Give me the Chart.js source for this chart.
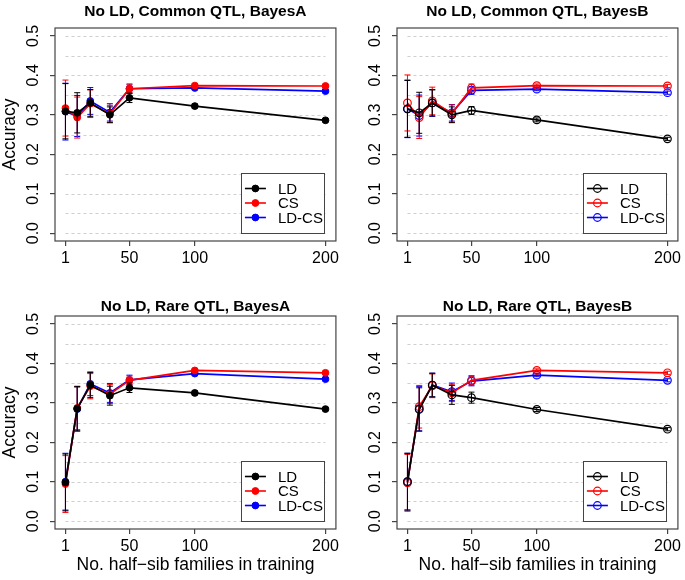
<!DOCTYPE html>
<html>
<head>
<meta charset="utf-8">
<script src="https://cdn.jsdelivr.net/npm/chart.js@4.4.1/dist/chart.umd.min.js"></script>
<style>
  body { margin: 0; background: #fff; }
  #wrap { position: relative; width: 685px; height: 580px; }
  canvas { position: absolute; }
</style>
</head>
<body>
<div id="wrap">
  <canvas id="p1" width="342" height="290" style="left:0;top:0"></canvas>
  <canvas id="p2" width="342" height="290" style="left:342px;top:0"></canvas>
  <canvas id="p3" width="342" height="290" style="left:0;top:288px"></canvas>
  <canvas id="p4" width="342" height="290" style="left:342px;top:288px"></canvas>
</div>
<script>
// number of half-sib families (x) and axis ticks
const families = [1, 10, 20, 35, 50, 100, 200];
const xTicks = [1, 50, 100, 200];
const yTicks = [0, 0.1, 0.2, 0.3, 0.4, 0.5];
const gridVals = [0, 0.05, 0.1, 0.15, 0.2, 0.25, 0.3, 0.35, 0.4, 0.45, 0.5];
const seriesNames = ['LD', 'CS', 'LD-CS'];
const seriesColors = ['#000000', '#ff0000', '#0000ff'];

// No LD, Common QTL, BayesA
const ldCommonA   = [0.309, 0.305, 0.330, 0.300, 0.343, 0.322, 0.286];
const csCommonA   = [0.317, 0.293, 0.328, 0.302, 0.366, 0.374, 0.373];
const ldcsCommonA = [0.308, 0.297, 0.335, 0.306, 0.366, 0.368, 0.360];
const errLdCommonA   = [0.070, 0.051, 0.034, 0.020, 0.012, 0.005, 0.004];
const errCsCommonA   = [0.071, 0.052, 0.035, 0.022, 0.010, 0.004, 0.004];
const errLdcsCommonA = [0.072, 0.052, 0.034, 0.022, 0.012, 0.004, 0.004];

// No LD, Common QTL, BayesB
const ldCommonB   = [0.315, 0.305, 0.330, 0.300, 0.311, 0.287, 0.239];
const csCommonB   = [0.330, 0.293, 0.335, 0.303, 0.368, 0.374, 0.373];
const ldcsCommonB = [0.315, 0.298, 0.330, 0.305, 0.362, 0.365, 0.356];
const errLdCommonB   = [0.072, 0.052, 0.033, 0.020, 0.010, 0.005, 0.004];
const errCsCommonB   = [0.071, 0.053, 0.035, 0.022, 0.010, 0.004, 0.004];
const errLdcsCommonB = [0.073, 0.052, 0.034, 0.021, 0.010, 0.004, 0.004];

// No LD, Rare QTL, BayesA
const ldRareA   = [0.098, 0.285, 0.345, 0.318, 0.338, 0.325, 0.284];
const csRareA   = [0.094, 0.287, 0.342, 0.322, 0.357, 0.382, 0.376];
const ldcsRareA = [0.100, 0.284, 0.348, 0.325, 0.358, 0.374, 0.360];
const errLdRareA   = [0.072, 0.056, 0.032, 0.024, 0.012, 0.005, 0.004];
const errCsRareA   = [0.072, 0.055, 0.032, 0.024, 0.011, 0.004, 0.004];
const errLdcsRareA = [0.072, 0.056, 0.030, 0.024, 0.012, 0.004, 0.004];

// No LD, Rare QTL, BayesB
const ldRareB   = [0.100, 0.283, 0.345, 0.320, 0.313, 0.283, 0.233];
const csRareB   = [0.097, 0.290, 0.343, 0.325, 0.357, 0.382, 0.376];
const ldcsRareB = [0.100, 0.285, 0.345, 0.328, 0.355, 0.370, 0.357];
const errLdRareB   = [0.072, 0.055, 0.030, 0.024, 0.014, 0.005, 0.004];
const errCsRareB   = [0.072, 0.054, 0.030, 0.022, 0.012, 0.004, 0.004];
const errLdcsRareB = [0.072, 0.056, 0.030, 0.022, 0.012, 0.004, 0.004];

const FONT = '"Liberation Sans", Arial, Helvetica, sans-serif';

const decor = {
  id: 'decor',
  beforeDatasetsDraw(chart) {
    const { ctx } = chart;
    const xs = chart.scales.x, ys = chart.scales.y;
    ctx.save();
    ctx.strokeStyle = '#cfcfcf';
    ctx.lineWidth = 1;
    ctx.setLineDash([3, 3]);
    gridVals.forEach(v => {
      const y = Math.round(ys.getPixelForValue(v)) + 0.5;
      ctx.beginPath();
      ctx.moveTo(xs.getPixelForValue(families[0]), y);
      ctx.lineTo(xs.getPixelForValue(families[families.length - 1]), y);
      ctx.stroke();
    });
    ctx.restore();
  },
  afterDatasetDraw(chart, args) {
    const { ctx } = chart;
    const ds = chart.data.datasets[args.index];
    const xs = chart.scales.x, ys = chart.scales.y;
    ctx.save();
    ctx.strokeStyle = ds.borderColor;
    ctx.lineWidth = 1;
    ds.data.forEach((p, j) => {
      const e = ds.err[j];
      const x = xs.getPixelForValue(p.x);
      const y1 = ys.getPixelForValue(p.y - e);
      const y2 = ys.getPixelForValue(p.y + e);
      ctx.beginPath();
      ctx.moveTo(x, y1); ctx.lineTo(x, y2);
      ctx.moveTo(x - 3, y1); ctx.lineTo(x + 3, y1);
      ctx.moveTo(x - 3, y2); ctx.lineTo(x + 3, y2);
      ctx.stroke();
    });
    ctx.restore();
  },
  afterDraw(chart) {
    const { ctx, chartArea: a } = chart;
    const o = chart.options.plugins.decor;
    const ys = chart.scales.y;
    ctx.save();
    // frame
    ctx.strokeStyle = '#444';
    ctx.lineWidth = 1.2;
    ctx.strokeRect(a.left, a.top, a.right - a.left, a.bottom - a.top);

    // y tick labels (rotated, R style)
    ctx.fillStyle = '#000';
    ctx.font = '16px ' + FONT;
    ctx.textAlign = 'center';
    ctx.textBaseline = 'middle';
    yTicks.forEach(v => {
      ctx.save();
      ctx.translate(34, ys.getPixelForValue(v));
      ctx.rotate(-Math.PI / 2);
      ctx.fillText(v.toFixed(1), 0, 0);
      ctx.restore();
    });

    // title
    ctx.font = 'bold 15.5px ' + FONT;
    ctx.textBaseline = 'alphabetic';
    ctx.fillText(o.title, (a.left + a.right) / 2, o.titleY);

    // axis titles
    ctx.font = '17.5px ' + FONT;
    ctx.textBaseline = 'middle';
    if (o.yTitle) {
      ctx.save();
      ctx.translate(10, (a.top + a.bottom) / 2);
      ctx.rotate(-Math.PI / 2);
      ctx.fillText(o.yTitle, 0, 0);
      ctx.restore();
    }
    if (o.xTitle) {
      ctx.fillText(o.xTitle, (a.left + a.right) / 2, 277);
    }

    // legend (bottom right, inside)
    const w = 83, h = 60;
    const bx = a.right - 12 - w, by = a.bottom - 8 - h;
    ctx.fillStyle = '#fff';
    ctx.fillRect(bx, by, w, h);
    ctx.strokeStyle = '#444';
    ctx.lineWidth = 1;
    ctx.strokeRect(Math.round(bx) + 0.5, Math.round(by) + 0.5, w, h);
    ctx.font = '15px ' + FONT;
    ctx.textAlign = 'left';
    chart.data.datasets.forEach((ds, i) => {
      const ry = by + h / 2 + (i - 1) * 14.5;
      ctx.strokeStyle = ds.borderColor;
      ctx.lineWidth = 1.6;
      ctx.beginPath();
      ctx.moveTo(bx + 4, ry); ctx.lineTo(bx + 25, ry);
      ctx.stroke();
      ctx.beginPath();
      ctx.arc(bx + 14.5, ry, ds.pointRadius, 0, Math.PI * 2);
      if (ds.pointBackgroundColor !== 'rgba(0,0,0,0)') {
        ctx.fillStyle = ds.pointBackgroundColor;
        ctx.fill();
      }
      ctx.lineWidth = ds.pointBorderWidth;
      ctx.stroke();
      ctx.fillStyle = '#000';
      ctx.fillText(ds.label, bx + 37, ry + 1);
    });
    ctx.restore();
  }
};

function makePanel(id, title, series, errs, open, titleY, yTitle, xTitle) {
  const datasets = series.map((vals, i) => ({
    label: seriesNames[i],
    data: families.map((f, j) => ({ x: f, y: vals[j] })),
    err: errs[i],
    borderColor: seriesColors[i],
    backgroundColor: seriesColors[i],
    pointBackgroundColor: open ? 'rgba(0,0,0,0)' : seriesColors[i],
    pointBorderColor: seriesColors[i],
    pointRadius: open ? 3.8 : 3.4,
    pointBorderWidth: open ? 1.2 : 1,
    borderWidth: 1.7,
    tension: 0
  }));
  new Chart(document.getElementById(id), {
    type: 'line',
    data: { datasets },
    plugins: [decor],
    options: {
      responsive: false,
      animation: false,
      devicePixelRatio: 1,
      layout: { padding: { left: 0, top: 28, right: 4, bottom: 0 } },
      plugins: {
        legend: { display: false },
        tooltip: { enabled: false },
        decor: { title, titleY, yTitle, xTitle }
      },
      scales: {
        x: {
          type: 'linear',
          min: -7,
          max: 208,
          afterBuildTicks: s => { s.ticks = xTicks.map(v => ({ value: v })); },
          afterFit: s => { s.height = 49; },
          grid: { drawOnChartArea: false, drawTicks: true, tickLength: 5, color: '#444', lineWidth: 1.2 },
          border: { display: false },
          ticks: { color: '#000', font: { family: FONT, size: 16 }, padding: 3, maxRotation: 0 }
        },
        y: {
          type: 'linear',
          min: -0.02,
          max: 0.52,
          afterBuildTicks: s => { s.ticks = yTicks.map(v => ({ value: v })); },
          afterFit: s => { s.width = 55; },
          grid: { drawOnChartArea: false, drawTicks: true, tickLength: 5, color: '#444', lineWidth: 1.2 },
          border: { display: false },
          ticks: { display: false }
        }
      }
    }
  });
}

const xLab = 'No. half\u2212sib families in training';
makePanel('p1', 'No LD, Common QTL, BayesA',
  [ldCommonA, csCommonA, ldcsCommonA], [errLdCommonA, errCsCommonA, errLdcsCommonA], false, 15.5, 'Accuracy', null);
makePanel('p2', 'No LD, Common QTL, BayesB',
  [ldCommonB, csCommonB, ldcsCommonB], [errLdCommonB, errCsCommonB, errLdcsCommonB], true, 15.5, null, null);
makePanel('p3', 'No LD, Rare QTL, BayesA',
  [ldRareA, csRareA, ldcsRareA], [errLdRareA, errCsRareA, errLdcsRareA], false, 22.5, 'Accuracy', xLab);
makePanel('p4', 'No LD, Rare QTL, BayesB',
  [ldRareB, csRareB, ldcsRareB], [errLdRareB, errCsRareB, errLdcsRareB], true, 22.5, null, xLab);
</script>
</body>
</html>
